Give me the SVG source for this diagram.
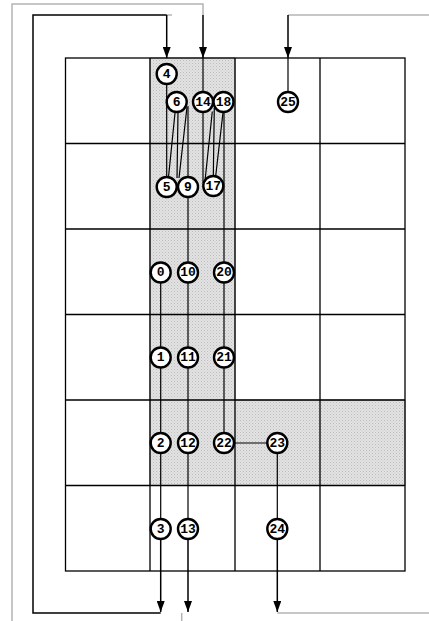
<svg xmlns="http://www.w3.org/2000/svg" width="429" height="621" viewBox="0 0 429 621">
<defs>
<pattern id="dots" width="3" height="3" patternUnits="userSpaceOnUse">
<rect width="3" height="3" fill="#e2e2e2"/>
<rect width="1" height="1" fill="#bdbdbd"/>
<rect x="1.5" y="1.5" width="1" height="1" fill="#cdcdcd"/>
</pattern>
<marker id="ah" viewBox="0 0 11 8" refX="11" refY="4" markerWidth="11" markerHeight="8" markerUnits="userSpaceOnUse" orient="auto">
<path d="M0,0 L11,4 L0,8 z" fill="#000"/>
</marker>
<style>
.grid{fill:none;stroke:#000;stroke-width:1.3}
.shade{fill:url(#dots);stroke:#999;stroke-width:1}
.e{fill:none;stroke:#000;stroke-width:1.2}
.a{fill:none;stroke:#000;stroke-width:1.5;marker-end:url(#ah)}
.ab{fill:none;stroke:#000;stroke-width:1.5}
.g{fill:none;stroke:#b4b4b4;stroke-width:1.5}
.n circle{fill:#fff;stroke:#000;stroke-width:2.4}
.n text{font-family:"Liberation Mono","DejaVu Sans Mono",monospace;font-weight:bold;font-size:13px;text-anchor:middle;dominant-baseline:central;fill:#000}
</style>
</defs>
<g id="background">
<path class="shade" d="M150,58 H235 V400 H405 V485.5 H150 Z"/>
<rect class="grid" x="65.5" y="58" width="339.5" height="513"/>
<path class="grid" d="M150,58 V571 M235,58 V571 M320,58 V571 M65.5,143.5 H405 M65.5,229 H405 M65.5,314.5 H405 M65.5,400 H405 M65.5,485.5 H405"/>
</g>
<g id="connectors">
<path class="g" d="M166.7,15 H172"/>
<path class="ab" d="M160.7,613 H33 V15 H166.7"/>
<path class="a" d="M166.7,15 V58"/>
<path class="g" d="M12,621 V4 H203 V15"/>
<path class="a" d="M203,15 V58"/>
<path class="e" d="M203,58 V92"/>
<path class="g" d="M429,15 H288"/>
<path class="a" d="M288,15 V58"/>
<path class="e" d="M288,58 V92"/>
<path class="e" d="M166.7,84 V177"/>
<path class="e" d="M175,113 L168.5,177"/>
<path class="e" d="M178,113 L177,178"/>
<path class="e" d="M187,107 L179,178"/>
<path class="e" d="M188,106 V177"/>
<path class="e" d="M203,112 V183"/>
<path class="e" d="M212.3,111.5 L205,181"/>
<path class="e" d="M214.3,108 L213.3,176"/>
<path class="e" d="M223,112.5 L215.7,176"/>
<path class="e" d="M224,112 V262.5"/>
<path class="e" d="M188,197 V519"/>
<path class="e" d="M160.7,282.5 V519"/>
<path class="e" d="M224,282.5 V433"/>
<path class="e" d="M234,443 H267.3"/>
<path class="e" d="M277.3,453 V519"/>
<path class="a" d="M160.7,539 V612"/>
<path class="a" d="M188,539 V612"/>
<path class="g" d="M181.7,613 V621"/>
<path class="a" d="M277.3,539 V612"/>
<path class="g" d="M277.3,613 H429"/>
</g>
<g id="n4" class="n"><circle cx="166.7" cy="74" r="10"/><text x="166.7" y="74">4</text></g>
<g id="n6" class="n"><circle cx="176.7" cy="102" r="10"/><text x="176.7" y="102">6</text></g>
<g id="n14" class="n"><circle cx="203" cy="102" r="10"/><text x="203" y="102">14</text></g>
<g id="n18" class="n"><circle cx="223.5" cy="102" r="10"/><text x="223.5" y="102">18</text></g>
<g id="n25" class="n"><circle cx="288" cy="102" r="10"/><text x="288" y="102">25</text></g>
<g id="n5" class="n"><circle cx="166.7" cy="187" r="10"/><text x="166.7" y="187">5</text></g>
<g id="n9" class="n"><circle cx="188" cy="187" r="10"/><text x="188" y="187">9</text></g>
<g id="n17" class="n"><circle cx="213.3" cy="186" r="10"/><text x="213.3" y="186">17</text></g>
<g id="n0" class="n"><circle cx="160.7" cy="272.5" r="10"/><text x="160.7" y="272.5">0</text></g>
<g id="n10" class="n"><circle cx="188" cy="272.5" r="10"/><text x="188" y="272.5">10</text></g>
<g id="n20" class="n"><circle cx="224" cy="272.5" r="10"/><text x="224" y="272.5">20</text></g>
<g id="n1" class="n"><circle cx="160.7" cy="357.5" r="10"/><text x="160.7" y="357.5">1</text></g>
<g id="n11" class="n"><circle cx="188" cy="357.5" r="10"/><text x="188" y="357.5">11</text></g>
<g id="n21" class="n"><circle cx="224" cy="357.5" r="10"/><text x="224" y="357.5">21</text></g>
<g id="n2" class="n"><circle cx="160.7" cy="443" r="10"/><text x="160.7" y="443">2</text></g>
<g id="n12" class="n"><circle cx="188" cy="443" r="10"/><text x="188" y="443">12</text></g>
<g id="n22" class="n"><circle cx="224" cy="443" r="10"/><text x="224" y="443">22</text></g>
<g id="n23" class="n"><circle cx="277.3" cy="443" r="10"/><text x="277.3" y="443">23</text></g>
<g id="n3" class="n"><circle cx="160.7" cy="529" r="10"/><text x="160.7" y="529">3</text></g>
<g id="n13" class="n"><circle cx="188" cy="529" r="10"/><text x="188" y="529">13</text></g>
<g id="n24" class="n"><circle cx="277.3" cy="529" r="10"/><text x="277.3" y="529">24</text></g>
</svg>
